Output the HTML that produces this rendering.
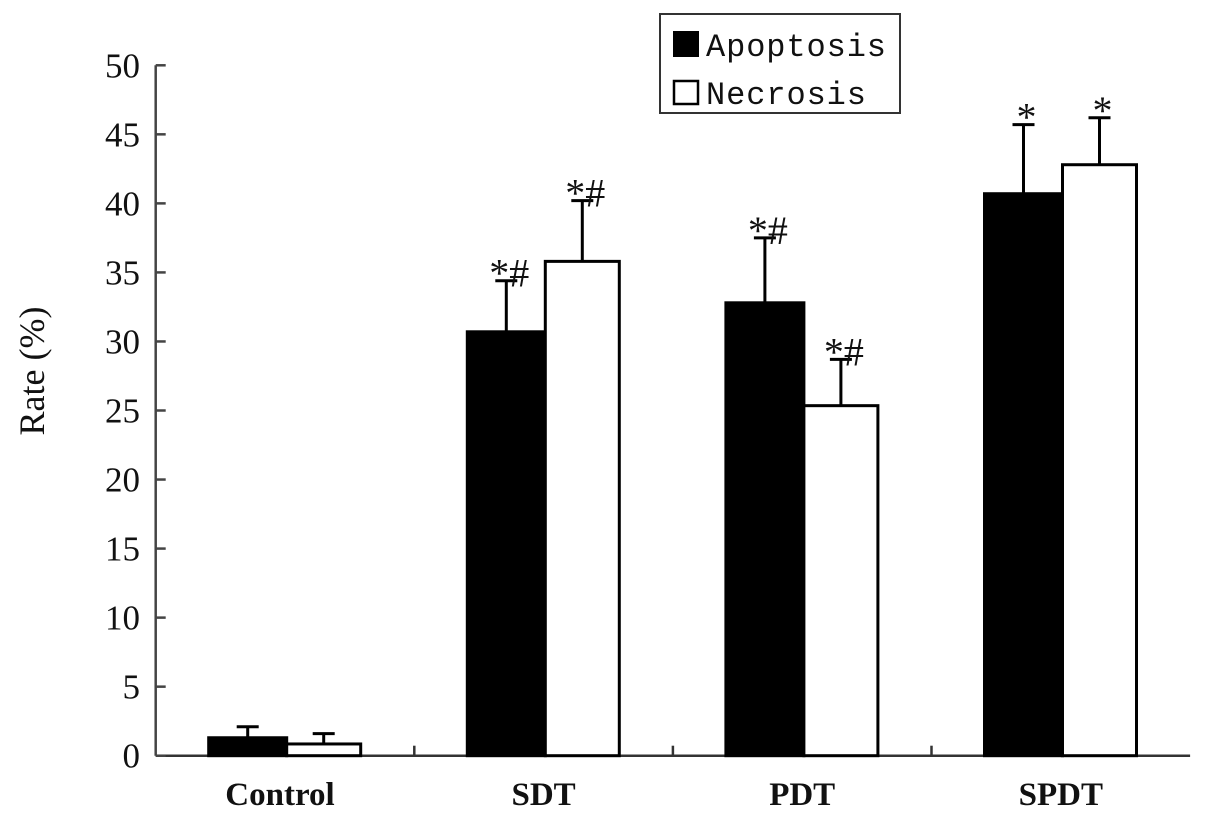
<!DOCTYPE html>
<html><head><meta charset="utf-8"><style>
body{margin:0;background:#fff;}
svg{display:block;}
text{font-family:"Liberation Serif",serif;fill:#111;}
text.mono{font-family:"Liberation Mono",monospace;}
</style></head><body>
<svg id="chart" width="1205" height="819" xmlns="http://www.w3.org/2000/svg"></svg>
<script>
const categories = ["Control","SDT","PDT","SPDT"];
const apoptosis = [1.3, 30.7, 32.8, 40.7];
const apoptosisErr = [0.8, 3.7, 4.7, 5.0];
const necrosis = [0.85, 35.8, 25.35, 42.8];
const necrosisErr = [0.75, 4.4, 3.35, 3.4];
const apoptosisMarks = ["", "*#", "*#", "*"];
const necrosisMarks = ["", "*#", "*#", "*"];
const yTicks = [0,5,10,15,20,25,30,35,40,45,50];

const NS="http://www.w3.org/2000/svg";
const svg=document.getElementById('chart');
const X0=155.7, Y0=755.7, YT=65.3, GW=258.6, YMAX=50;
function y(v){return Y0-(v/YMAX)*(Y0-YT);}
function gx(i){return X0+i*GW;}
function mk(tag,attrs,parent){const e=document.createElementNS(NS,tag);for(const k in attrs)e.setAttribute(k,attrs[k]);(parent||svg).appendChild(e);return e;}

const axis=mk('g',{});


mk('line',{x1:X0,y1:YT,x2:X0,y2:Y0,stroke:'#444','stroke-width':2.5},axis);
mk('line',{x1:X0,y1:Y0,x2:X0+4*GW,y2:Y0,stroke:'#333','stroke-width':2.5},axis);
yTicks.forEach(t=>{
  mk('line',{x1:X0,y1:y(t),x2:X0+10,y2:y(t),stroke:'#444','stroke-width':2.5},axis);
  const tx=mk('text',{x:140,y:y(t)+12,'text-anchor':'end','font-size':35},axis);
  tx.textContent=t;
  
  
});
for(let i=1;i<4;i++){mk('line',{x1:gx(i),y1:Y0,x2:gx(i),y2:Y0-10,stroke:'#333','stroke-width':2.5},axis);}

const yt=mk('text',{x:0,y:0,'text-anchor':'middle','font-size':36,transform:'translate(44,371) rotate(-90)'});
yt.textContent='Rate (%)';



function bar(i,x1,x2,v,err,fill,mark,name){
  const g=mk('g',{});
  
  
  mk('rect',{x:x1,y:y(v),width:x2-x1,height:Y0-y(v),fill:fill,stroke:'#000','stroke-width':3},g);
  const cx=(x1+x2)/2;
  mk('line',{x1:cx,y1:y(v),x2:cx,y2:y(v+err),stroke:'#000','stroke-width':3},g);
  mk('line',{x1:cx-11,y1:y(v+err),x2:cx+11,y2:y(v+err),stroke:'#000','stroke-width':3},g);
  if(mark){const t=mk('text',{x:cx+3,y:y(v+err)+6,'text-anchor':'middle','font-size':40},g);t.textContent=mark;}
}
categories.forEach((c,i)=>{
  const g0=gx(i);
  bar(i,g0+53,g0+131,apoptosis[i],apoptosisErr[i],'#000',apoptosisMarks[i],'bar-apoptosis-'+c.toLowerCase());
  bar(i,g0+131,g0+205,necrosis[i],necrosisErr[i],'#fff',necrosisMarks[i],'bar-necrosis-'+c.toLowerCase());
  const t=mk('text',{x:g0+GW/2-(i==0?5:0),y:805,'text-anchor':'middle','font-size':33,'font-weight':'bold'});
  t.textContent=c;
  
  
});

const lg=mk('g',{});


mk('rect',{x:660,y:14,width:240,height:99,fill:'#fff',stroke:'#333','stroke-width':2},lg);
mk('rect',{x:673,y:31,width:26,height:26,fill:'#000'},lg);
mk('rect',{x:674,y:81,width:24,height:23,fill:'#fff',stroke:'#000','stroke-width':2.5},lg);
const l1=mk('text',{x:706,y:56,'font-size':32,'class':'mono','textLength':180},lg);l1.textContent='Apoptosis';


const l2=mk('text',{x:706,y:104,'font-size':32,'class':'mono','textLength':160},lg);l2.textContent='Necrosis';


</script>
</body></html>
